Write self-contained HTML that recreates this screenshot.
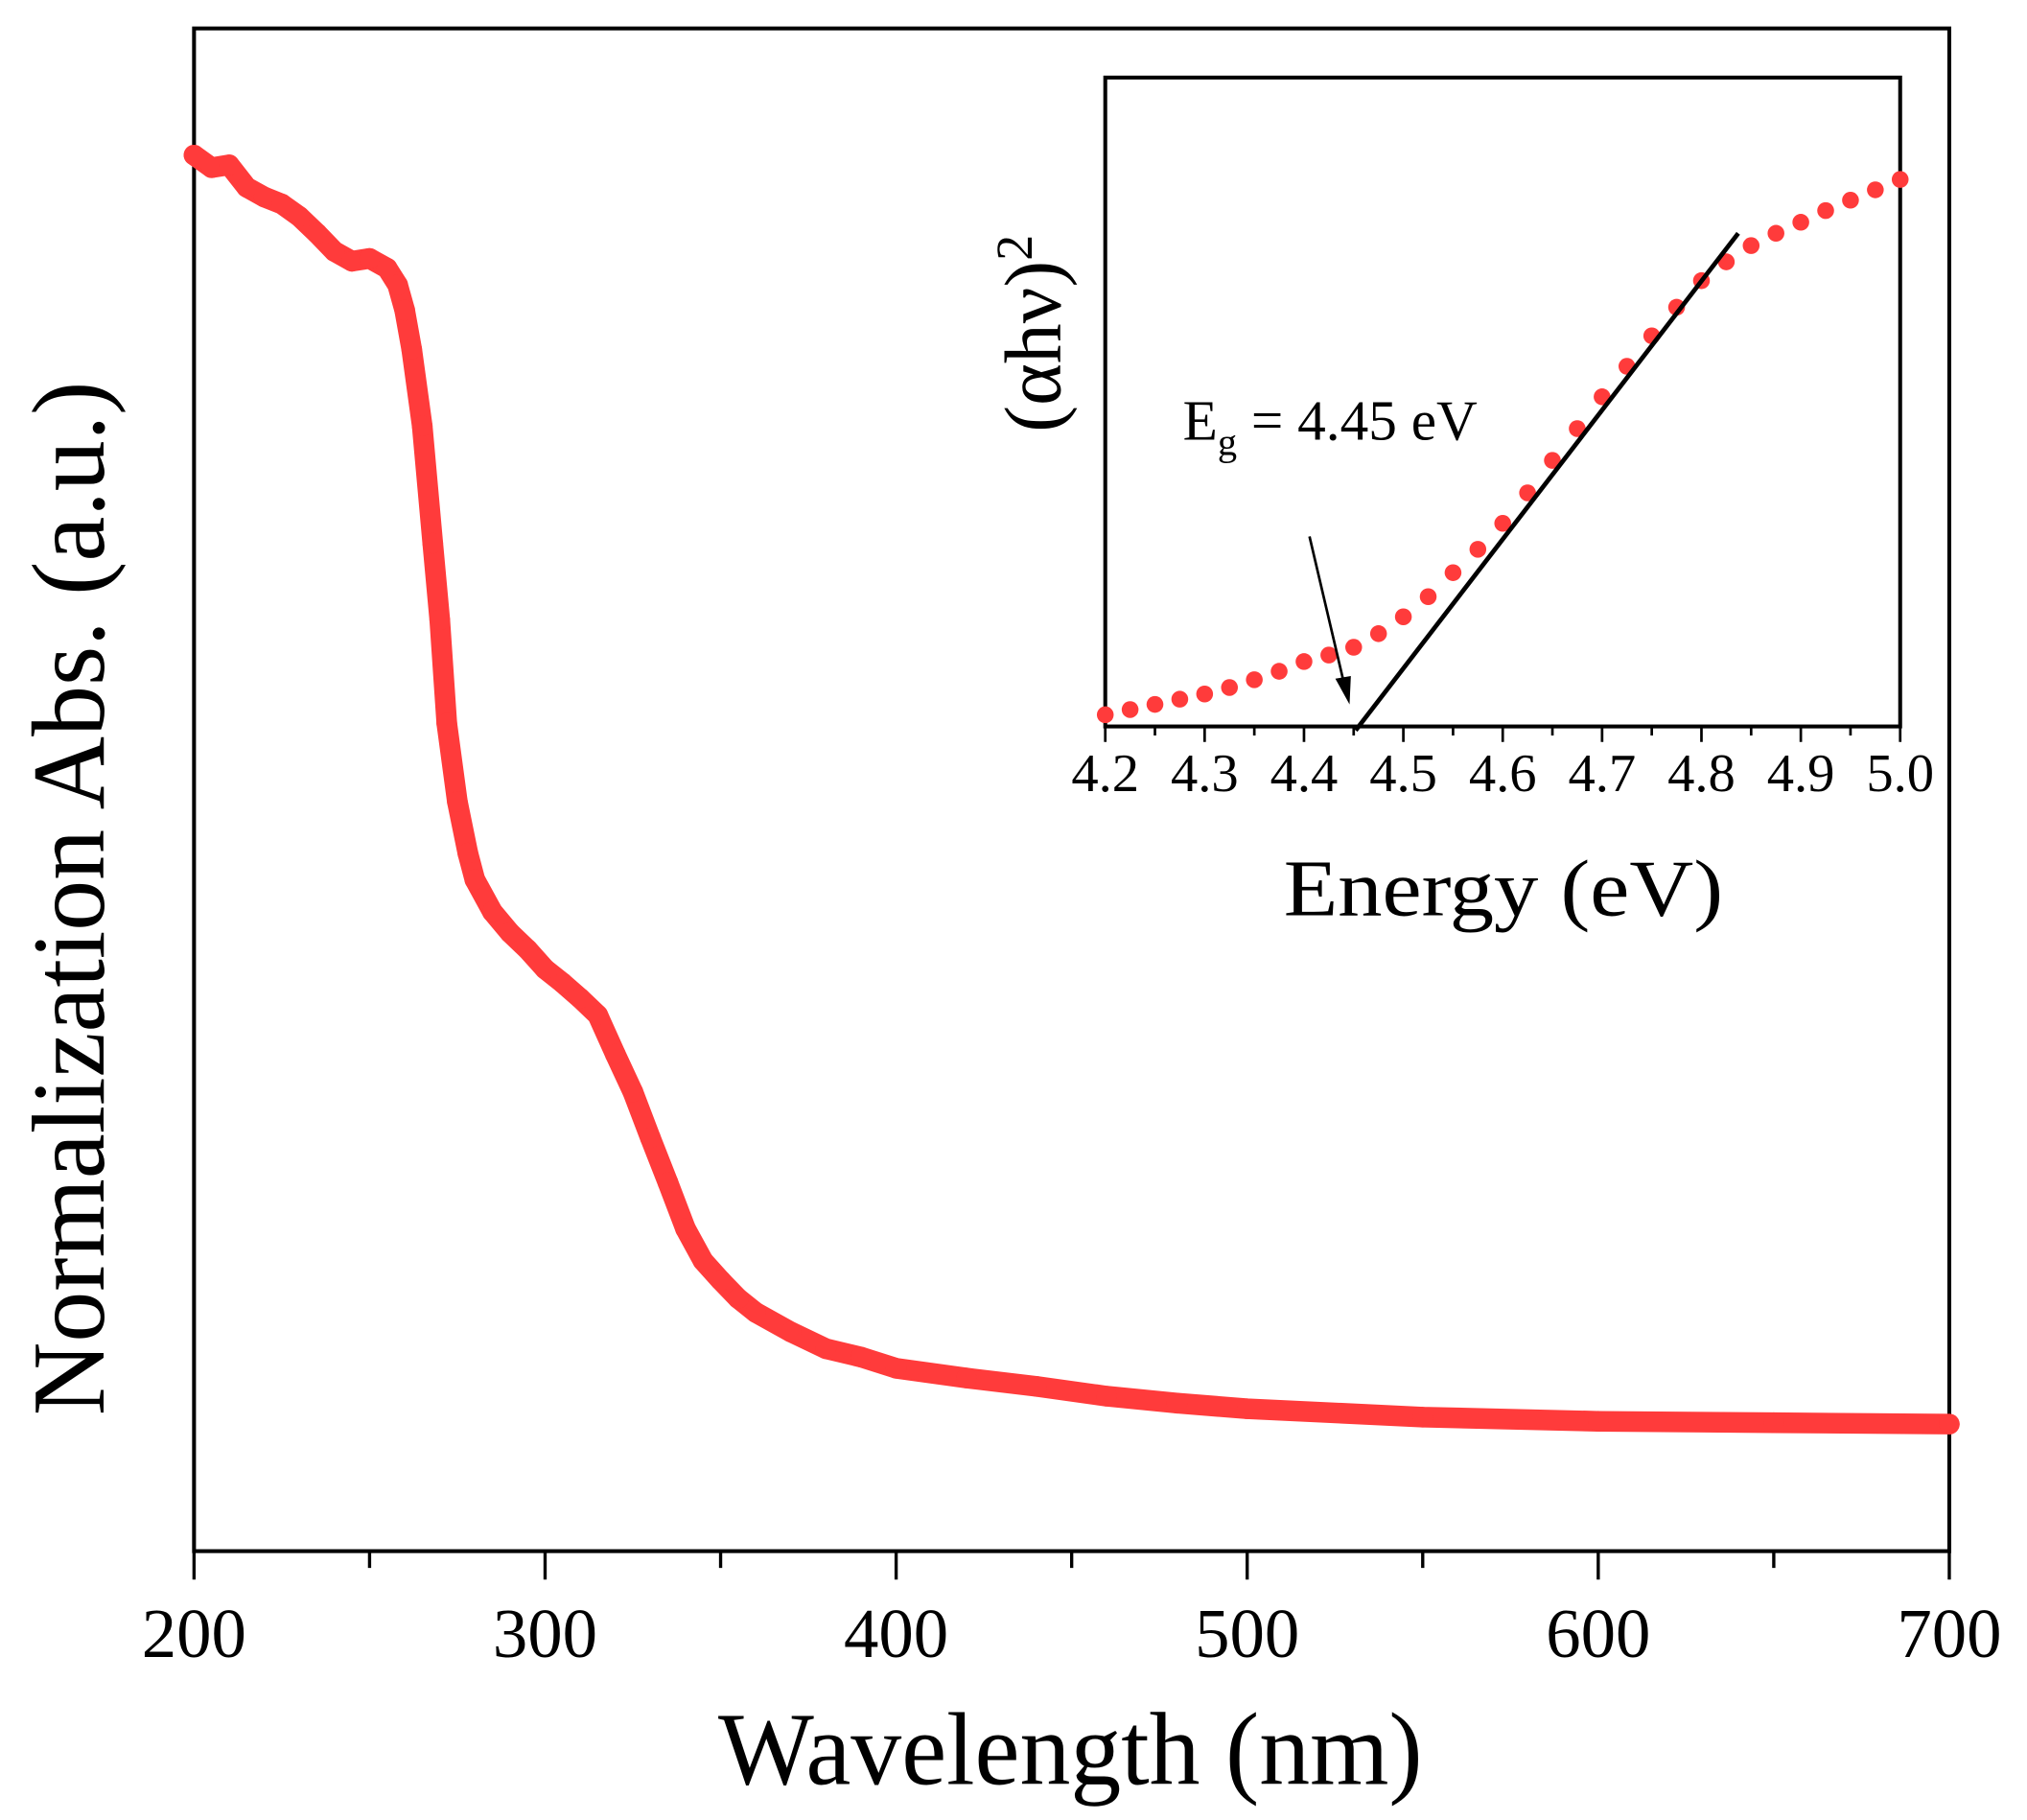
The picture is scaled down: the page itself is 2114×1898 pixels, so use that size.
<!DOCTYPE html>
<html><head><meta charset="utf-8"><style>
html,body{margin:0;padding:0;background:#fff;}
svg{display:block;font-family:"Liberation Serif",serif;}
</style></head><body>
<svg id="chart" width="2114" height="1898" viewBox="0 0 1568 1408" xmlns="http://www.w3.org/2000/svg">
<rect x="0" y="0" width="1568" height="1408" fill="#fff"/>
<g id="main"></g>
<g id="inset"></g>
</svg>
<script>
// Main chart data
const wl = [200,205,210,215,220,225,230,235,240,245,250,255,258,260,262,265,268,270,272,275,278,280,285,290,295,300,305,310,315,320,325,330,335,340,345,350,355,360,370,380,390,400,420,440,460,480,500,550,600,650,700];
const absValues = [1.000,0.991,0.993,0.977,0.970,0.965,0.956,0.944,0.931,0.924,0.926,0.919,0.907,0.889,0.861,0.806,0.722,0.667,0.593,0.537,0.500,0.481,0.458,0.443,0.431,0.417,0.407,0.396,0.384,0.356,0.329,0.296,0.264,0.231,0.208,0.194,0.181,0.171,0.157,0.145,0.139,0.131,0.124,0.118,0.111,0.106,0.102,0.096,0.093,0.092,0.091];
const xTicks = [200,300,400,500,600,700];
const xTickLabels = ["200","300","400","500","600","700"];
// Inset data
const energy = [4.2,4.225,4.25,4.275,4.3,4.325,4.35,4.375,4.4,4.425,4.45,4.475,4.5,4.525,4.55,4.575,4.6,4.625,4.65,4.675,4.7,4.725,4.75,4.775,4.8,4.825,4.85,4.875,4.9,4.925,4.95,4.975,5.0];
const ahv2 = [0.018,0.026,0.034,0.042,0.050,0.060,0.072,0.085,0.100,0.110,0.122,0.143,0.169,0.200,0.237,0.273,0.313,0.360,0.410,0.459,0.508,0.555,0.602,0.646,0.687,0.716,0.741,0.760,0.777,0.795,0.811,0.827,0.843];
const fitLine = [[4.452,-0.006],[4.837,0.760]];
const insetTicks = [4.2,4.3,4.4,4.5,4.6,4.7,4.8,4.9,5.0];
const insetTickLabels = ["4.2","4.3","4.4","4.5","4.6","4.7","4.8","4.9","5.0"];

const NS="http://www.w3.org/2000/svg";
function mk(parent,tag,attrs,text){const e=document.createElementNS(NS,tag);for(const k in attrs)e.setAttribute(k,attrs[k]);if(text!==undefined)e.textContent=text;parent.appendChild(e);return e;}

// main axes
const L=150,R=1508,T=22,B=1200;
const xs=w=>L+(w-200)/(700-200)*(R-L);
const ys=v=>B-v*1080;
const g=document.getElementById('main');
let fr=mk(g,'rect',{x:L,y:T,width:R-L,height:B-T,fill:'none',stroke:'#000','stroke-width':3});


for(let w=200;w<=700;w+=50){
  const major=(w%100===0);
  let t=mk(g,'line',{x1:xs(w),x2:xs(w),y1:B,y2:B+(major?22:13),stroke:'#000','stroke-width':2.5});
  
  
}
xTicks.forEach((w,i)=>{
  let t=mk(g,'text',{x:xs(w),y:1282,'font-size':54,'text-anchor':'middle'},xTickLabels[i]);
  
  
});
let xt=mk(g,'text',{x:828,y:1380,'font-size':80,'text-anchor':'middle',textLength:545,lengthAdjust:'spacingAndGlyphs'},'Wavelength (nm)');


let yt=mk(g,'text',{x:0,y:0,'font-size':80,'text-anchor':'middle',textLength:800,lengthAdjust:'spacingAndGlyphs',transform:'translate(80,695) rotate(-90)'},'Normalization Abs. (a.u.)');


const pts=wl.map((w,i)=>xs(w)+','+ys(absValues[i])).join(' ');
let pl=mk(g,'polyline',{points:pts,fill:'none',stroke:'#ff3b3b','stroke-width':16,'stroke-linejoin':'round','stroke-linecap':'round'});


wl.forEach((w,i)=>{
  let c=mk(g,'circle',{cx:xs(w),cy:ys(absValues[i]),r:8,fill:'#ff3b3b'});
  
  
});

// inset
const iL=855,iR=1470,iT=60,iB=562;
const ix=e=>iL+(e-4.2)/(5.0-4.2)*(iR-iL);
const iy=v=>iB-v*(iB-iT);
const gi=document.getElementById('inset');
let ifr=mk(gi,'rect',{x:iL,y:iT,width:iR-iL,height:iB-iT,fill:'#fff',stroke:'#000','stroke-width':3});


for(let k=0;k<=16;k++){
  const e=4.2+k*0.05;const major=(k%2===0);
  let t=mk(gi,'line',{x1:ix(e),x2:ix(e),y1:iB,y2:iB+(major?12:7),stroke:'#000','stroke-width':2});
  
  
}
insetTicks.forEach((e,i)=>{
  let t=mk(gi,'text',{x:ix(e),y:612,'font-size':42,'text-anchor':'middle'},insetTickLabels[i]);
  
  
});
let et=mk(gi,'text',{x:1163,y:708,'font-size':62,'text-anchor':'middle',textLength:340,lengthAdjust:'spacingAndGlyphs'},'Energy (eV)');


let iyt=mk(gi,'text',{x:0,y:0,'font-size':62,'text-anchor':'middle',transform:'translate(820,258) rotate(-90)'});


iyt.innerHTML='(αhν)<tspan dy="-22" font-size="40">2</tspan>';
energy.forEach((e,i)=>{
  let c=mk(gi,'circle',{cx:ix(e),cy:iy(ahv2[i]),r:6.5,fill:'#ff3b3b'});
  
  
});
let fl=mk(gi,'line',{x1:ix(fitLine[0][0]),y1:iy(fitLine[0][1]),x2:ix(fitLine[1][0]),y2:iy(fitLine[1][1]),stroke:'#000','stroke-width':3.5});


let ar=mk(gi,'line',{x1:1013,y1:415,x2:1040,y2:530,stroke:'#000','stroke-width':2});


let ah=mk(gi,'polygon',{points:'1044,545 1033,525 1045,523',fill:'#000'});


let eg=mk(gi,'text',{x:915,y:340,'font-size':44});


eg.innerHTML='E<tspan dy="12" font-size="30">g</tspan><tspan dy="-12"> = 4.45 eV</tspan>';
</script>
</body></html>
